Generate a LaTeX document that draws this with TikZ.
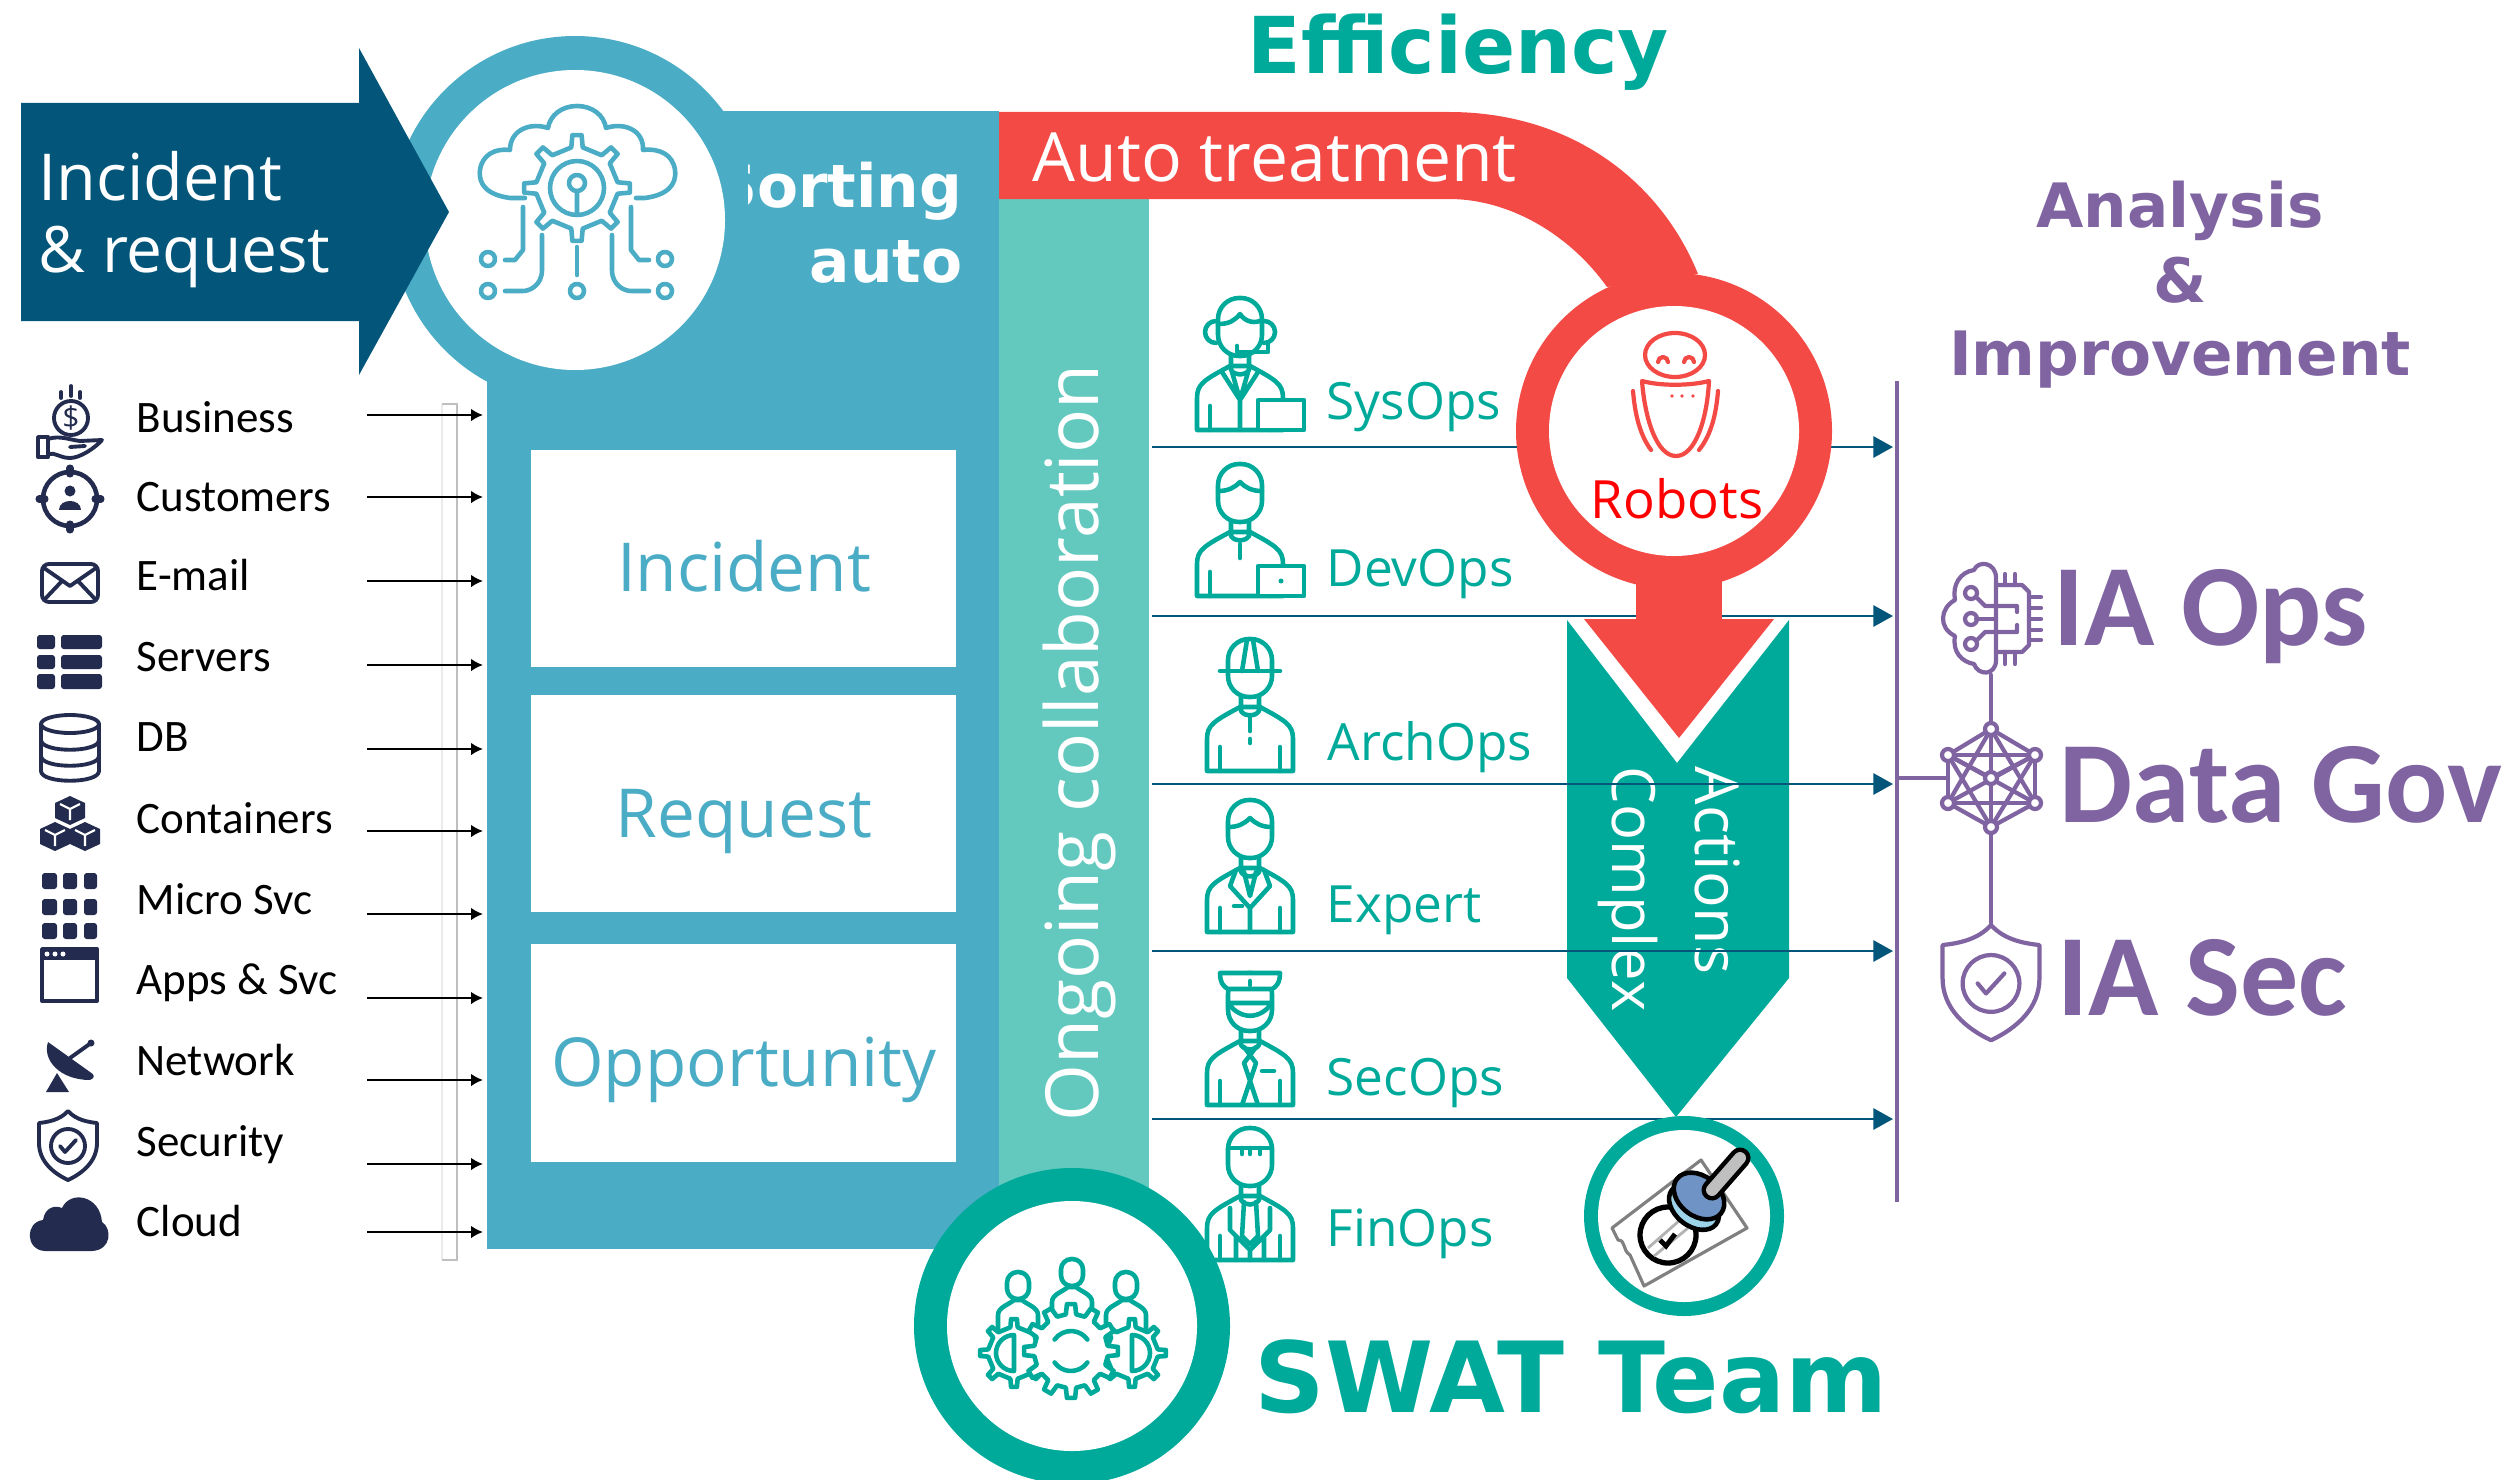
\documentclass[tikz,border=0pt]{standalone}
\usepackage{fontspec}
\setmainfont{Open Sans}
\newfontfamily\carlito{Carlito}
\newfontfamily\dejavu{DejaVu Sans}
\usetikzlibrary{arrows.meta}
\tikzset{>=latex}
\definecolor{panelblue}{HTML}{4BACC6}
\definecolor{deepblue}{HTML}{03567A}
\definecolor{stripteal}{HTML}{63C9BF}
\definecolor{swatteal}{HTML}{00AA9A}
\definecolor{robotred}{HTML}{F44A45}
\definecolor{iapurple}{HTML}{8064A2}
\definecolor{navyicon}{HTML}{232C4F}
\definecolor{stampblue}{HTML}{6F93C4}
\definecolor{stamprim}{HTML}{9CD5EA}
\tikzset{
  every node/.style={inner sep=0pt},
  srclabel/.style={anchor=base west,font=\carlito\fontsize{12.8}{15}\selectfont},
  opslabel/.style={anchor=base west,text=swatteal,font=\fontsize{14.6}{17}\selectfont},
  boxlabel/.style={anchor=base,text=panelblue,font=\fontsize{19.2}{22}\selectfont},
  bigbold/.style={anchor=base west,font=\dejavu\bfseries},
  ialabel/.style={anchor=base west,text=iapurple,font=\carlito\bfseries\fontsize{33}{38}\selectfont},
  flowarrow/.style={-{Triangle[length=5.6pt,width=6pt]},deepblue,line width=0.8pt},
  srcarrow/.style={-{Latex[length=3.4pt,width=3.6pt]},black,line width=0.6pt},
  navyline/.style={draw=navyicon,line width=1.1pt,line cap=round,line join=round},
  blueline/.style={draw=panelblue,line width=1.3pt,line cap=round,line join=round},
  tealline/.style={draw=swatteal,line width=1.3pt,line cap=round,line join=round},
  redline/.style={draw=robotred,line width=1.2pt,line cap=round,line join=round},
  purpleline/.style={draw=iapurple,line width=1.2pt,line cap=round,line join=round},
}
% gear outline: x, y, outer radius, root radius, step angle, style
\newcommand{\gearicon}[6]{
  \draw[#6,fill=white,shift={(#1,#2)}] (-8:#4)
    \foreach \a in {0,#5,...,359} {-- (\a-8:#4) -- (\a-5:#3) -- (\a+5:#3) -- (\a+8:#4)} -- cycle;
}
% shield: x, y of top point, scale, style
\newcommand{\shieldicon}[4]{
  \begin{scope}[shift={(#1,#2)},scale=#3]
    \draw[#4] (0,0) .. controls (-8,9) and (-20,11) .. (-29,12) -- (-29,32)
      .. controls (-29,50) and (-15,62) .. (0,69) .. controls (15,62) and (29,50) .. (29,32)
      -- (29,12) .. controls (20,11) and (8,9) .. (0,0) -- cycle;
    \draw[#4] (0,35) circle (17);
    \draw[#4] (-8,35) -- (-3,41) -- (8,29);
  \end{scope}
}
% person: x, y of bottom centre, extra strokes
\newcommand{\opsperson}[3]{
  \begin{scope}[shift={(#1,#2)}]
    \draw[tealline,fill=white] (-43,0) -- (-43,-32) .. controls (-43,-46) and (-36,-50) .. (-10,-64)
      -- (10,-64) .. controls (36,-50) and (43,-46) .. (43,-32) -- (43,0) -- cycle;
    \draw[tealline] (-30,0) -- (-30,-24) (30,0) -- (30,-24);
    \draw[tealline] (-9,-76) -- (-9,-60) .. controls (-5,-54) and (5,-54) .. (9,-60) -- (9,-76);
    \draw[tealline,fill=white,rounded corners=6pt] (-22,-132) rectangle (22,-74);
    #3
  \end{scope}
}
\begin{document}
\begin{tikzpicture}[x=0.01cm,y=-0.01cm]
  \useasboundingbox (0,0) rectangle (2510,1479);
  % sorting panel
  \fill[panelblue] (487,111) rectangle (999,1249);
  \fill[panelblue] (575,220) circle (184);
  \node[anchor=base east,text=white,font=\dejavu\bfseries\fontsize{17}{20}\selectfont] (sortword) at (963,208) {Sorting};
  \node[anchor=base east,text=white,font=\dejavu\bfseries\fontsize{17}{20}\selectfont] (autoword) at (963,282) {auto};
  \fill[panelblue] (700,150) rectangle (748,225);
  \fill[white] (575,220) circle (150);
  \fill[deepblue] (21,103) -- (359,103) -- (359,48) -- (449,212) -- (359,375) -- (359,321) -- (21,321) -- cycle;
  \node[anchor=base west,text=white,font=\fontsize{18.4}{22}\selectfont] (incword) at (38,200) {Incident};
  \node[anchor=base west,text=white,font=\fontsize{18.2}{22}\selectfont] (reqword) at (38,272) {\& request};
  % cloud and gear
  \draw[blueline] (525,198) -- (510,198) .. controls (488,195) and (478,185) .. (480,170)
    .. controls (482,155) and (495,148) .. (510,150) .. controls (510,130) and (530,122) .. (548,128)
    .. controls (550,115) and (562,106) .. (577,106) .. controls (592,106) and (604,115) .. (606,128)
    .. controls (624,122) and (644,130) .. (643,150) .. controls (660,148) and (673,155) .. (675,170)
    .. controls (677,185) and (667,195) .. (645,198) -- (636,198);
  \gearicon{577}{188}{53}{41}{45}{blueline}
  \draw[blueline] (577,188) circle (27);
  \draw[blueline] (577,183) circle (8) (577,191) -- (577,214);
  \draw[blueline] (523,207) -- (523,250) -- (515,260) -- (505,260);
  \draw[blueline] (542,235) -- (542,270) .. controls (542,285) and (530,291) .. (523,291) -- (505,291);
  \draw[blueline] (631,207) -- (631,250) -- (639,260) -- (649,260);
  \draw[blueline] (612,235) -- (612,270) .. controls (612,285) and (624,291) .. (631,291) -- (649,291);
  \draw[blueline] (577,247) -- (577,275);
  \foreach \px/\py in {488/259,488/291,577/291,665/259,665/291}
    \draw[blueline] (\px,\py) circle (7);
  % category boxes
  \fill[white] (531,450) rectangle (956,667);
  \fill[white] (531,695) rectangle (956,912);
  \fill[white] (531,944) rectangle (956,1162);
  \node[boxlabel] (incbox) at (744,591) {Incident};
  \node[boxlabel] (reqbox) at (744,837) {Request};
  \node[boxlabel] (oppbox) at (744,1086) {Opportunity};
  % collaboration strip
  \fill[stripteal] (999,199) rectangle (1149,1250);
  \node[rotate=90,anchor=base west,text=white,font=\fontsize{20.8}{24}\selectfont] (collab) at (1098,1122) {Ongoing collaboration};
  % sources
  \draw[black!8] (442,404) -- (442,1260);
  \draw[black!25] (442,404) -- (457,404) -- (457,1260) -- (442,1260);
  \foreach \lbl/\base/\arr [count=\i] in {Business/432/415,Customers/511/497,E-mail/590/581,Servers/671/665,DB/751/749,Containers/833/831,Micro Svc/914/914,Apps \& Svc/994/998,Network/1075/1080,Security/1156/1164,Cloud/1236/1232}{
    \node[srclabel] (src\i) at (136,\base) {\lbl};
    \coordinate (srcin\i) at (367,\arr);
    \coordinate (srcout\i) at (483,\arr);
    \draw[srcarrow] (srcin\i) -- (srcout\i);
  }
  % source icons
  \draw[navyline] (71,418) circle (17);
  \node[text=navyicon,font=\fontsize{8.5}{10}\selectfont] (dollar) at (71,418) {\$};
  \draw[navyline] (61,392) -- (61,398) (71,386) -- (71,396) (80,392) -- (80,398);
  \draw[navyline] (38,437) rectangle (48,457);
  \draw[navyline] (48,439) .. controls (60,435) and (70,440) .. (80,441) -- (102,440) .. controls (95,448) and (80,458) .. (70,458) .. controls (60,458) and (55,452) .. (48,454);
  \draw[navyline] (70,447) -- (85,446);
  \draw[navyline,line width=1.3pt] (70,499) circle (27);
  \foreach \a in {0,90,180,270}
    \draw[navyline,line width=2pt] ([shift={(70,499)}]\a:25) -- ([shift={(70,499)}]\a:31);
  \fill[navyicon] (70,491) circle (5.5);
  \fill[navyicon] (59,510) .. controls (59,498) and (81,498) .. (81,510) -- cycle;
  \draw[navyline,rounded corners=2pt] (42,564) rectangle (98,602);
  \draw[navyline] (44,568) -- (70,586) -- (96,568) (44,600) -- (62,581) (96,600) -- (78,581);
  \foreach \ya/\yb in {635/649,655/669,674/689}{
    \fill[navyicon,rounded corners=0.8pt] (37,\ya) rectangle (55,\yb);
    \fill[navyicon,rounded corners=0.8pt] (61,\ya) rectangle (102,\yb);
  }
  \draw[navyline] (70,724) ellipse (29 and 9);
  \draw[navyline] (41,724) -- (41,771) .. controls (41,784) and (99,784) .. (99,771) -- (99,724);
  \draw[navyline] (41,740) .. controls (41,753) and (99,753) .. (99,740);
  \draw[navyline] (41,756) .. controls (41,769) and (99,769) .. (99,756);
  \foreach \cx/\cy in {70/810,55/836,85/836}{
    \fill[navyicon] (\cx,\cy-14) -- (\cx+15,\cy-7) -- (\cx+15,\cy+8) -- (\cx,\cy+15) -- (\cx-15,\cy+8) -- (\cx-15,\cy-7) -- cycle;
    \draw[white,line width=0.6pt] (\cx-10,\cy-6) -- (\cx,\cy-1) -- (\cx+10,\cy-6) (\cx,\cy-1) -- (\cx,\cy+10);
  }
  \foreach \ya/\yb in {873/889,899/915,923/939}
    \foreach \xa/\xb in {42/57,63/77,84/97}
      \fill[navyicon,rounded corners=0.8pt] (\xa,\ya) rectangle (\xb,\yb);
  \draw[navyline] (42,949) rectangle (97,1001);
  \fill[navyicon] (42,948) rectangle (97,960);
  \foreach \dx in {47,55,63}
    \fill[white] (\dx,954) circle (2.5);
  \fill[navyicon] (48,1042) .. controls (42,1060) and (60,1080) .. (90,1080) .. controls (96,1078) and (94,1074) .. (90,1072) -- cycle;
  \fill[navyicon] (57,1073) -- (69,1092) -- (46,1092) -- cycle;
  \draw[navyline] (70,1058) -- (91,1043);
  \fill[navyicon] (91,1043) circle (3.5);
  \shieldicon{68}{1111}{1}{navyline}
  \fill[navyicon] (45,1251) .. controls (25,1250) and (25,1222) .. (43,1220) .. controls (45,1207) and (55,1205) .. (62,1208)
    .. controls (70,1190) and (100,1195) .. (102,1222) .. controls (112,1228) and (112,1250) .. (92,1251) -- cycle;
  % complex actions, flows, robots
  \fill[swatteal] (1567,620) -- (1677,763) -- (1789,620) -- (1789,978) -- (1676,1117) -- (1567,978) -- cycle;
  \node[rotate=-90,anchor=base west,text=white,font=\fontsize{17.3}{20}\selectfont] (actword) at (1695,766) {Actions};
  \node[rotate=-90,anchor=base west,text=white,font=\fontsize{17}{20}\selectfont] (cplxword) at (1612,766) {Complex};
  \foreach \y/\lbl/\lx/\lb [count=\i] in {447/SysOps/1326/419,616/DevOps/1326/586,784/ArchOps/1327/760,951/Expert/1326/922,1119/SecOps/1326/1095}{
    \coordinate (flowin\i) at (1152,\y);
    \coordinate (flowout\i) at (1893,\y);
    \draw[flowarrow] (flowin\i) -- (flowout\i);
    \node[opslabel] (ops\i) at (\lx,\lb) {\lbl};
  }
  \node[opslabel] (ops6) at (1326,1246) {FinOps};
  \fill[robotred] (999,112) -- (1449,112) .. controls (1570,112) and (1660,180) .. (1698,274)
    -- (1607,287) .. controls (1570,235) and (1510,199) .. (1449,199) -- (999,199) -- cycle;
  \node[anchor=base west,text=white,font=\fontsize{19.3}{24}\selectfont] (autotreat) at (1032,182) {Auto treatment};
  \fill[robotred] (1636,560) rectangle (1722,619);
  \fill[robotred] (1584,619) -- (1774,619) -- (1679,738) -- cycle;
  \fill[robotred] (1674,431) circle (158);
  \fill[white] (1674,431) circle (125);
  \draw[redline] (1675,355) ellipse (30 and 22);
  \draw[redline] (1658,362) arc (180:360:5) (1684,362) arc (180:360:5);
  \draw[redline] (1642,381) .. controls (1660,386) and (1690,386) .. (1709,381)
    .. controls (1707,420) and (1695,456) .. (1676,456) .. controls (1657,456) and (1645,420) .. (1642,381) -- cycle;
  \draw[redline] (1633,391) .. controls (1635,415) and (1640,435) .. (1651,450);
  \draw[redline] (1718,391) .. controls (1716,415) and (1711,435) .. (1699,450);
  \foreach \dx in {1672,1682,1693}
    \fill[robotred] (\dx,396) circle (1.8);
  \node[anchor=base west,text=red,font=\fontsize{15}{17}\selectfont] (robotword) at (1590,518) {Robots};
  % people
  \opsperson{1240}{430}{
    \draw[tealline] (-24,-87) arc (90:270:11) (24,-87) arc (90:-90:11);
    \draw[tealline] (28,-87) -- (28,-78) -- (-3,-78) -- (-3,-84);
    \draw[tealline] (-22,-106) .. controls (-10,-106) and (-5,-110) .. (0,-116) .. controls (5,-108) and (15,-106) .. (22,-110);
    \draw[tealline] (-18,-58) -- (0,-30) -- (18,-58) (-8,-58) -- (0,-30) -- (8,-58) (0,-30) -- (0,0);
    \draw[tealline,fill=white] (18,-30) rectangle (64,0);
  }
  \opsperson{1240}{596}{
    \draw[tealline] (-22,-105) .. controls (-12,-105) and (-6,-108) .. (0,-114) .. controls (6,-108) and (12,-105) .. (22,-105);
    \draw[tealline] (0,-52) -- (0,-38);
    \draw[tealline,fill=white] (18,-30) rectangle (64,0);
    \fill[swatteal] (41,-15) circle (2.5);
  }
  \opsperson{1250}{771}{
    \draw[tealline] (-30,-100) -- (30,-100);
    \draw[tealline] (-8,-100) -- (-3,-131) (8,-100) -- (3,-131);
    \draw[tealline] (0,-56) -- (0,-40) (0,-32) -- (0,-28);
  }
  \opsperson{1250}{932}{
    \draw[tealline] (-22,-105) .. controls (-12,-105) and (-6,-108) .. (0,-114) .. controls (6,-108) and (12,-105) .. (22,-105);
    \draw[tealline] (-14,-62) -- (-20,-46) -- (0,-24) -- (20,-46) -- (14,-62) (0,-24) -- (0,0);
    \draw[tealline] (-6,-60) -- (0,-36) -- (6,-60);
    \draw[tealline] (-16,-26) -- (-8,-26);
  }
  \opsperson{1250}{1105}{
    \draw[tealline,fill=white] (-30,-132) -- (30,-132) .. controls (30,-122) and (26,-118) .. (22,-116) -- (-22,-116) .. controls (-26,-118) and (-30,-122) .. (-30,-132) -- cycle;
    \draw[tealline] (-22,-102) .. controls (-10,-85) and (10,-85) .. (22,-102) -- (-22,-102);
    \draw[tealline] (0,-124) -- (0,-120);
    \draw[tealline] (-6,-58) -- (6,-42) -- (-8,0) (6,-58) -- (-6,-42) -- (8,0);
    \draw[tealline] (12,-34) -- (24,-34);
  }
  \opsperson{1250}{1260}{
    \draw[tealline] (-22,-112) -- (22,-112) (10,-112) -- (10,-106) (0,-112) -- (0,-106) (-8,-112) -- (-8,-106);
    \draw[tealline] (-6,-58) -- (-8,-24) -- (0,-16) -- (8,-24) -- (6,-58);
    \draw[tealline] (-20,-52) -- (-20,-30) -- (0,-10) -- (20,-30) -- (20,-52) (-14,0) -- (-14,-24) (14,0) -- (14,-24) (0,-10) -- (0,0);
  }
  % swat circle
  \fill[swatteal] (1072,1326) circle (158);
  \fill[white] (1072,1326) circle (125);
  \begin{scope}[shift={(1072,1305)},xscale=0.5,yscale=0.5]
    \foreach \hx/\hy in {-108/-40,0/-66,108/-40}{
      \draw[tealline,rounded corners=3pt] (\hx-22,\hy-26) rectangle (\hx+22,\hy+28);
      \draw[tealline] (\hx-40,\hy+100) -- (\hx-40,\hy+60) .. controls (\hx-40,\hy+45) and (\hx-20,\hy+40) .. (\hx-8,\hy+30) -- (\hx+8,\hy+30) .. controls (\hx+20,\hy+40) and (\hx+40,\hy+45) .. (\hx+40,\hy+60) -- (\hx+40,\hy+100);
    }
  \end{scope}
  \gearicon{1014}{1353}{34}{26}{45}{tealline}
  \gearicon{1132}{1353}{34}{26}{45}{tealline}
  \gearicon{1071}{1351}{47}{37}{30}{tealline}
  \draw[tealline] (1071,1351) ++(35:20) arc (35:145:20) (1071,1351) ++(215:20) arc (215:325:20);
  \draw[tealline] (1014,1371) arc (90:270:18) -- cycle (1132,1371) arc (90:-90:18) -- cycle;
  % stamp
  \fill[swatteal] (1684,1216) circle (100);
  \fill[white] (1684,1216) circle (86);
  \draw[gray,line width=0.9pt,line join=round] (1701,1160) -- (1747,1228) -- (1644,1286) -- (1630,1255) .. controls (1622,1250) and (1626,1240) .. (1618,1240) -- (1612,1228) -- cycle;
  \draw[black,line width=1.5pt,fill=white] (1668,1235) circle (28);
  \draw[gray!60,line width=0.8pt] (1648,1248) -- (1680,1220) (1654,1256) -- (1688,1228);
  \draw[black,line width=1.4pt] (1660,1240) -- (1666,1246) -- (1675,1234);
  \draw[black,line width=1.3pt,fill=stamprim,rotate around={-38:(1694,1207)}] (1694,1207) ellipse (28 and 19);
  \draw[black,line width=1.3pt,fill=stampblue,rotate around={-38:(1699,1196)}] (1699,1196) ellipse (28 and 20);
  \draw[black,line width=6pt,line cap=round] (1712,1190) -- (1740,1158);
  \draw[black!25,line width=3.4pt,line cap=round] (1712,1190) -- (1740,1158);
  % purple side
  \draw[purpleline,line cap=butt] (1897,381) -- (1897,1202);
  \draw[purpleline] (1897,778) -- (1948,778);
  \draw[purpleline] (1991,675) -- (1991,729) (1991,827) -- (1991,923);
  \node[anchor=base,text=iapurple,font=\dejavu\bfseries\fontsize{17.4}{21}\selectfont] (anaword) at (2180,228) {Analysis};
  \node[anchor=base,text=iapurple,font=\dejavu\bfseries\fontsize{17.4}{21}\selectfont] (ampword) at (2180,302) {\&};
  \node[anchor=base,text=iapurple,font=\dejavu\bfseries\fontsize{17.4}{21}\selectfont] (impword) at (2180,375) {Improvement};
  \node[ialabel] (iaops) at (2053,645) {IA Ops};
  \node[ialabel] (datagov) at (2059,822) {Data Gov};
  \node[ialabel] (iasec) at (2057,1015) {IA Sec};
  % brain and chip
  \draw[purpleline] (1996,578) .. controls (1996,562) and (1978,560) .. (1974,570) .. controls (1960,572) and (1952,585) .. (1955,600)
    .. controls (1940,608) and (1938,628) .. (1955,636) .. controls (1952,652) and (1962,662) .. (1974,664)
    .. controls (1978,676) and (1996,676) .. (1996,660) -- cycle;
  \draw[purpleline] (1996,585) -- (2022,585) -- (2029,592) -- (2029,645) -- (2022,652) -- (1996,652);
  \foreach \py in {597,608,619,630,640}
    \draw[purpleline] (2029,\py) -- (2041,\py);
  \foreach \px in {2005,2015}
    \draw[purpleline] (\px,574) -- (\px,585) (\px,652) -- (\px,664);
  \draw[purpleline] (1977,598) -- (1985,606) -- (2017,606) -- (2017,612);
  \draw[purpleline] (1976,619) -- (1996,619);
  \draw[purpleline] (1977,640) -- (1985,632) -- (2017,632) -- (2017,625);
  \foreach \py in {593,619,644}
    \draw[purpleline] (1971,\py) circle (6);
  % data network
  \coordinate (netA) at (1991,729);
  \coordinate (netB) at (1948,755);
  \coordinate (netC) at (2035,755);
  \coordinate (netD) at (1948,803);
  \coordinate (netE) at (2035,803);
  \coordinate (netF) at (1991,827);
  \coordinate (netG) at (1991,778);
  \foreach \u/\v in {A/B,A/C,A/D,A/E,A/F,B/C,B/D,B/E,B/F,C/D,C/E,C/F,D/E,D/F,E/F,B/G,C/G}
    \draw[purpleline] (net\u) -- (net\v);
  \foreach \u in {A,B,C,D,E,F,G}
    \draw[purpleline,fill=white] (net\u) circle (6);
  \shieldicon{1991}{925}{1.67}{purpleline}
  % titles
  \node[bigbold,text=swatteal,font=\dejavu\bfseries\fontsize{22.3}{26}\selectfont] (effword) at (1247,74) {Efficiency};
  \node[bigbold,text=swatteal,font=\dejavu\bfseries\fontsize{27.9}{32}\selectfont] (swatword) at (1254,1412) {SWAT Team};
\end{tikzpicture}
\end{document}
